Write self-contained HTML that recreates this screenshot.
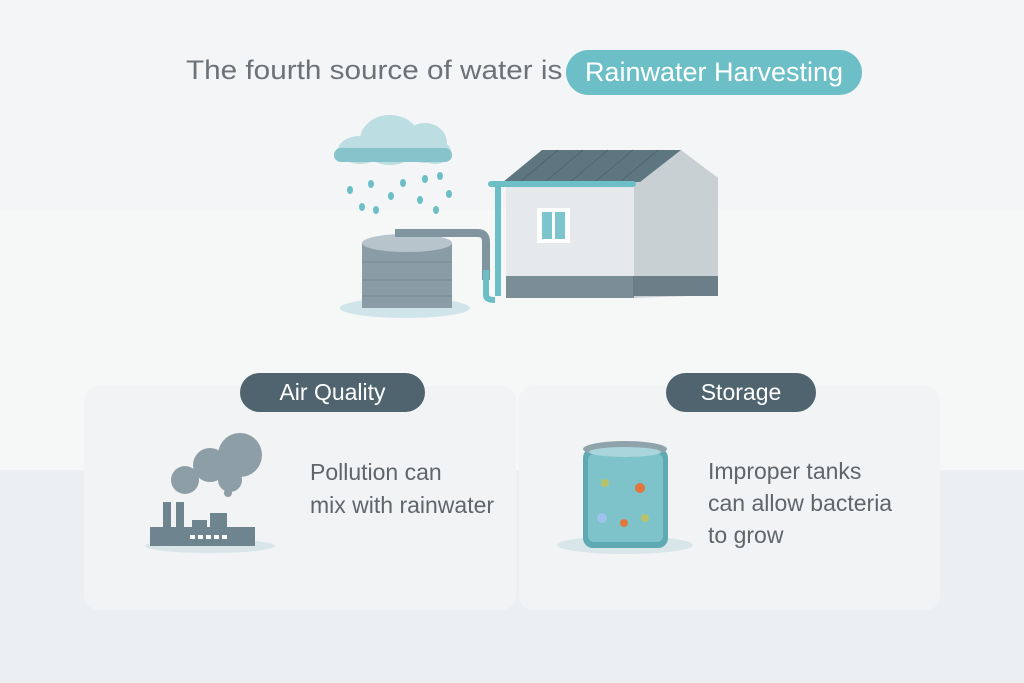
<!DOCTYPE html>
<html><head><meta charset="utf-8"><style>
html,body{margin:0;padding:0}
body{width:1024px;height:683px;position:relative;overflow:hidden;background:#f4f5f6;font-family:"Liberation Sans",sans-serif}
.band{position:absolute;left:0;width:1024px}
.t{position:absolute;white-space:nowrap}
.card{position:absolute;top:386px;height:224px;background:#f1f3f4;border-radius:14px}
.pill{position:absolute;background:#4f646e;color:#fff;border-radius:20px;text-align:center;font-size:23px;line-height:39px;height:39px}
.txt{position:absolute;font-size:23px;color:#5f666b;line-height:33px;white-space:nowrap}
</style></head><body>
<div class="band" style="top:210px;height:260px;background:#f6f7f7"></div>
<div class="band" style="top:470px;height:213px;background:#eceff1"></div>
<div class="t" style="left:186px;top:55px;font-size:27px;color:#6b7278;transform:scaleX(1.1);transform-origin:0 0">The fourth source of water is</div>
<div class="t" style="left:566px;top:50px;width:296px;height:45px;border-radius:23px;background:#6cbfc7;color:#fff;font-size:27px;line-height:45px;text-align:center">Rainwater Harvesting</div>

<svg style="position:absolute;left:0;top:0" width="1024" height="683">
 <g fill="#bcdde2"><ellipse cx="390" cy="140" rx="30" ry="25"/><ellipse cx="425" cy="143" rx="22" ry="20"/><ellipse cx="360" cy="150" rx="22" ry="14"/><ellipse cx="435" cy="152" rx="16" ry="12"/></g>
 <rect x="334" y="148" width="118" height="14" rx="7" fill="#86c3cb"/>
 <g fill="#6cbfc7"><ellipse cx="350" cy="190" rx="3" ry="4"/><ellipse cx="371" cy="184" rx="3" ry="4"/><ellipse cx="403" cy="183" rx="3" ry="4"/><ellipse cx="425" cy="179" rx="3" ry="4"/><ellipse cx="440" cy="176" rx="3" ry="4"/><ellipse cx="391" cy="196" rx="3" ry="4"/><ellipse cx="420" cy="200" rx="3" ry="4"/><ellipse cx="449" cy="194" rx="3" ry="4"/><ellipse cx="362" cy="207" rx="3" ry="4"/><ellipse cx="376" cy="210" rx="3" ry="4"/><ellipse cx="436" cy="210" rx="3" ry="4"/></g>
 <ellipse cx="405" cy="308" rx="65" ry="10" fill="#cfe5ea"/>
 <rect x="362" y="243" width="90" height="65" fill="#8a9ca6"/>
 <ellipse cx="407" cy="243" rx="45" ry="9" fill="#b7c4cb"/>
 <g stroke="#75878f" stroke-width="1"><line x1="362" y1="262" x2="452" y2="262"/><line x1="362" y1="280" x2="452" y2="280"/><line x1="362" y1="296" x2="452" y2="296"/></g>
 <path d="M395 233 H478 Q486 233 486 242 V280" fill="none" stroke="#8095a0" stroke-width="8"/>
 <path d="M486 270 V295 Q486 300 495 300" fill="none" stroke="#6cbfc7" stroke-width="6"/>
 <polygon points="633,183 680,150 718,178 718,295 633,298" fill="#c9d0d4"/>
 <rect x="506" y="184" width="128" height="92" fill="#e6e9eb"/>
 <rect x="506" y="276" width="128" height="22" fill="#7b8d96"/>
 <rect x="633" y="276" width="85" height="20" fill="#6c7e87"/>
 <polygon points="503,182 542,150 681,150 640,182" fill="#5d7680"/>
 <g stroke="#4e6670" stroke-width="1"><line x1="520" y1="182" x2="558" y2="150"/><line x1="545" y1="182" x2="583" y2="150"/><line x1="570" y1="182" x2="608" y2="150"/><line x1="595" y1="182" x2="633" y2="150"/><line x1="620" y1="182" x2="658" y2="150"/></g>
 <polygon points="681,150 718,178 714,181 681,157" fill="#c9d0d4"/>
 <rect x="488" y="181" width="148" height="6" rx="3" fill="#6cbfc7"/>
 <rect x="495" y="186" width="6" height="110" fill="#6cbfc7"/>
 <rect x="537" y="208" width="33" height="35" fill="#fff"/>
 <rect x="542" y="212" width="10" height="27" fill="#7cc5cc"/><rect x="555" y="212" width="10" height="27" fill="#7cc5cc"/>
</svg>

<div class="card" style="left:84px;width:432px"></div>
<div class="card" style="left:519px;width:421px"></div>
<div class="pill" style="left:240px;top:373px;width:185px">Air Quality</div>
<div class="pill" style="left:666px;top:373px;width:150px">Storage</div>

<svg style="position:absolute;left:0;top:0" width="1024" height="683">
 <ellipse cx="210" cy="546" rx="65" ry="7" fill="#d8e6ea"/>
 <g fill="#8d9ea6"><circle cx="185" cy="480" r="14"/><circle cx="210" cy="465" r="17"/><circle cx="240" cy="455" r="22"/><circle cx="230" cy="480" r="12"/><circle cx="228" cy="493" r="4"/></g>
 <g fill="#6e848e"><rect x="163" y="502" width="8" height="36"/><rect x="176" y="502" width="8" height="36"/><rect x="192" y="520" width="15" height="18"/><rect x="210" y="513" width="17" height="25"/><rect x="150" y="527" width="105" height="19"/></g>
 <g fill="#fff"><rect x="190" y="535" width="5" height="4"/><rect x="198" y="535" width="5" height="4"/><rect x="206" y="535" width="5" height="4"/><rect x="214" y="535" width="5" height="4"/><rect x="222" y="535" width="5" height="4"/></g>
 <ellipse cx="625" cy="545" rx="68" ry="9" fill="#d8e6ea"/>
 <rect x="583" y="448" width="85" height="100" rx="10" fill="#5fa9b3"/>
 <rect x="588" y="454" width="75" height="88" rx="6" fill="#7ec3ca"/>
 <ellipse cx="625" cy="449" rx="42" ry="8" fill="#8fa3ab"/>
 <ellipse cx="625" cy="452" rx="36" ry="5" fill="#a9d6dc"/>
 <circle cx="605" cy="483" r="4" fill="#b8c26a"/><circle cx="640" cy="488" r="5" fill="#e2773e"/><circle cx="602" cy="518" r="5" fill="#9ec3ea"/><circle cx="624" cy="523" r="4" fill="#e2773e"/><circle cx="645" cy="518" r="4" fill="#b8c26a"/>
</svg>

<div class="txt" style="left:310px;top:456px">Pollution can<br>mix with rainwater</div>
<div class="txt" style="left:708px;top:455px;line-height:32px">Improper tanks<br>can allow bacteria<br>to grow</div>
</body></html>
